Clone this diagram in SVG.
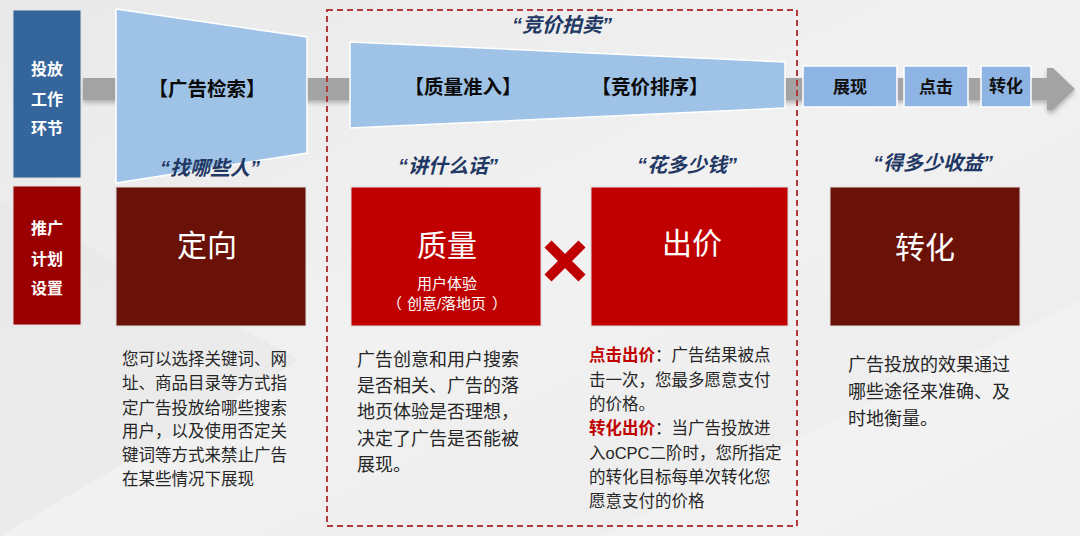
<svg xmlns="http://www.w3.org/2000/svg" width="1080" height="536" viewBox="0 0 1080 536">
<defs>
<linearGradient id="bg" x1="0" y1="0" x2="1" y2="1">
<stop offset="0" stop-color="#e9e9e9"/>
<stop offset="0.5" stop-color="#f1f1f1"/>
<stop offset="1" stop-color="#ebebeb"/>
</linearGradient>
<filter id="sh" x="-5%" y="-50%" width="110%" height="200%">
<feDropShadow dx="0" dy="3" stdDeviation="2" flood-color="#000" flood-opacity="0.25"/>
</filter>
</defs>
<style>
text{font-family:"Liberation Sans","Noto Sans CJK SC",sans-serif;dominant-baseline:central}
.side{fill:#fff;font-size:16px;font-weight:bold;text-anchor:middle}
.stage{fill:#0a0a0a;font-size:19.5px;font-weight:bold;text-anchor:middle}
.step{fill:#111;font-size:17px;font-weight:bold;text-anchor:middle}
.quote{fill:#1f3864;font-size:20px;font-weight:bold;font-style:italic;text-anchor:middle}
.big{fill:#fff;font-size:30px;text-anchor:middle}
.sub{fill:#fff;font-size:15px;text-anchor:middle}
.body{fill:#262626;font-size:16.5px}
.body2{fill:#262626;font-size:18px}
.hl{fill:#c00000;font-weight:bold}
.lb{fill:#9fc3e7;stroke:#fff;stroke-width:1.5}
.sb{fill:#8db4e2;stroke:#fff;stroke-width:1.5}
</style>
<rect width="1080" height="536" fill="url(#bg)"/>
<polygon points="600,536 1080,300 1080,536" fill="#f5f5f5" opacity="0.6"/>
<polygon points="0,200 300,360 0,536" fill="#e6e6e6" opacity="0.5"/>

<g id="connectors">
<g filter="url(#sh)">
<rect x="83" y="78" width="972" height="22" fill="#a3a3a3"/>
<polygon points="1053,68 1075,89 1053,110 1047,110 1047,68" fill="#a3a3a3"/>
</g>
</g>

<g id="side-top">
<rect x="13" y="10" width="68" height="168" fill="#34659b" stroke="#e0e0e0" stroke-width="1"/>
<text class="side" x="47" y="69">投放</text>
<text class="side" x="47" y="99">工作</text>
<text class="side" x="47" y="128">环节</text>
</g>
<g id="side-bottom">
<rect x="13" y="186" width="68" height="139" fill="#9b0000" stroke="#e0e0e0" stroke-width="1"/>
<text class="side" x="47" y="228">推广</text>
<text class="side" x="47" y="259">计划</text>
<text class="side" x="47" y="288">设置</text>
</g>

<g id="retrieval">
<polygon class="lb" points="116,9 307,37 307,153 116,183"/>
<text class="stage" x="207" y="89">【广告检索】</text>
</g>

<g id="auction-frame">
<rect x="327" y="10" width="470" height="516" fill="none" stroke="#b33a3a" stroke-width="2" stroke-dasharray="6,4"/>
<text class="quote" x="562" y="25">“竞价拍卖”</text>
</g>

<g id="auction">
<polygon class="lb" points="350,42 785,62 785,108 350,128"/>
<text class="stage" x="463" y="87">【质量准入】</text>
<text class="stage" x="650" y="87">【竞价排序】</text>
</g>

<g id="show">
<rect class="sb" x="803" y="66" width="94" height="41"/>
<text class="step" x="850" y="87">展现</text>
</g>
<g id="click">
<rect class="sb" x="904" y="66" width="64" height="41"/>
<text class="step" x="936" y="87">点击</text>
</g>
<g id="convert-step">
<rect class="sb" x="981" y="66" width="50" height="41"/>
<text class="step" x="1006" y="86">转化</text>
</g>

<text class="quote" x="210" y="168">“找哪些人”</text>
<text class="quote" x="448" y="166">“讲什么话”</text>
<text class="quote" x="687" y="165">“花多少钱”</text>
<text class="quote" x="933" y="163">“得多少收益”</text>

<g id="targeting">
<rect x="116" y="187" width="190" height="139" fill="#6b1208" stroke="#ddd" stroke-width="1"/>
<text class="big" x="207" y="245">定向</text>
</g>
<g id="quality">
<rect x="351" y="187" width="190" height="139" fill="#c00000" stroke="#ddd" stroke-width="1"/>
<text class="big" x="447" y="245">质量</text>
<text class="sub" x="447" y="283">用户体验</text>
<text class="sub" x="447" y="303">（<tspan dx="5">创意/落地页</tspan><tspan dx="6">）</tspan></text>
</g>
<g id="times">
<path d="M548,244 L582,278 M582,244 L548,278" stroke="#c00000" stroke-width="10" fill="none"/>
</g>
<g id="bid">
<rect x="591" y="187" width="197" height="139" fill="#c00000" stroke="#ddd" stroke-width="1"/>
<text class="big" x="692" y="243">出价</text>
</g>
<g id="conversion">
<rect x="830" y="187" width="190" height="139" fill="#6b1208" stroke="#ddd" stroke-width="1"/>
<text class="big" x="925" y="247">转化</text>
</g>

<g id="desc-targeting">
<text class="body" x="122" y="359">您可以选择关键词、网</text>
<text class="body" x="122" y="383">址、商品目录等方式指</text>
<text class="body" x="122" y="408">定广告投放给哪些搜索</text>
<text class="body" x="122" y="431">用户，以及使用否定关</text>
<text class="body" x="122" y="455">键词等方式来禁止广告</text>
<text class="body" x="122" y="479">在某些情况下展现</text>
</g>
<g id="desc-quality">
<text class="body2" x="357" y="360">广告创意和用户搜索</text>
<text class="body2" x="357" y="386">是否相关、广告的落</text>
<text class="body2" x="357" y="412">地页体验是否理想，</text>
<text class="body2" x="357" y="439">决定了广告是否能被</text>
<text class="body2" x="357" y="465">展现。</text>
</g>
<g id="desc-bid">
<text class="body" x="589" y="355"><tspan class="hl">点击出价</tspan>：广告结果被点</text>
<text class="body" x="589" y="380">击一次，您最多愿意支付</text>
<text class="body" x="589" y="404">的价格。</text>
<text class="body" x="589" y="428"><tspan class="hl">转化出价</tspan>：当广告投放进</text>
<text class="body" x="589" y="453">入oCPC二阶时，您所指定</text>
<text class="body" x="589" y="477">的转化目标每单次转化您</text>
<text class="body" x="589" y="501">愿意支付的价格</text>
</g>
<g id="desc-conversion">
<text class="body2" x="848" y="365">广告投放的效果通过</text>
<text class="body2" x="848" y="392">哪些途径来准确、及</text>
<text class="body2" x="848" y="419">时地衡量。</text>
</g>
</svg>
